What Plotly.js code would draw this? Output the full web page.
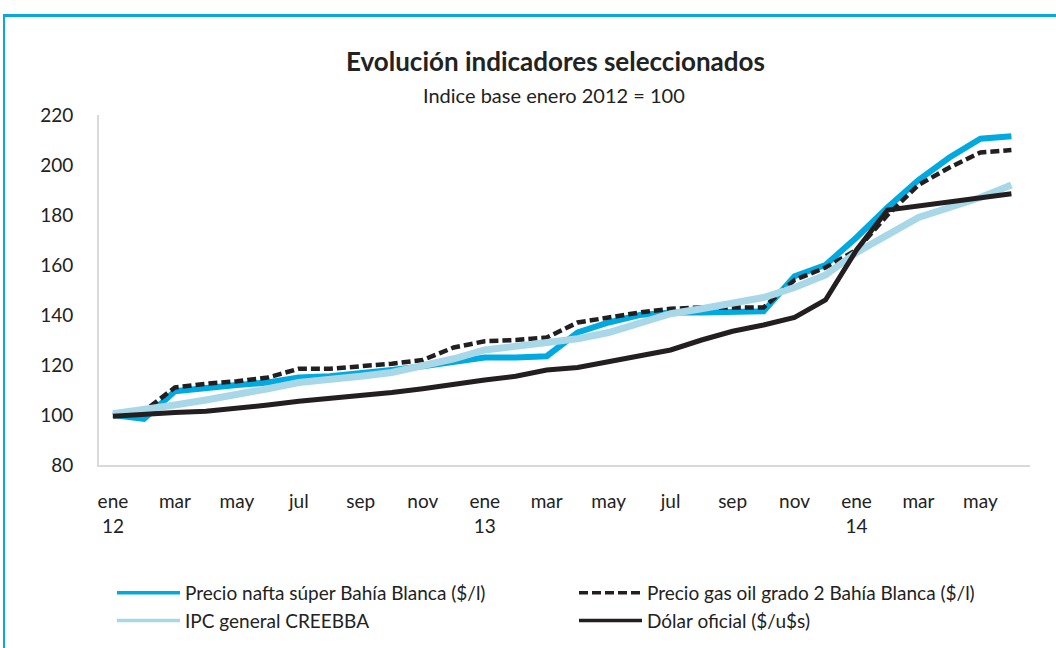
<!DOCTYPE html>
<html>
<head>
<meta charset="utf-8">
<script src="https://cdn.plot.ly/plotly-3.0.1.min.js"></script>
<style>
  html, body { margin:0; padding:0; background:#fff; }
  #chart { width:1056px; height:648px; }
  #frame { position:absolute; left:3px; top:14px; width:1060px; height:640px;
           border-top:3px solid #0aa6de; border-left:2px solid #0aa6de; pointer-events:none; }
</style>
</head>
<body>
<div id="chart"></div>
<div id="frame"></div>
<script>
// ---- data (monthly, ene 2012 = 100) ----
const months = ["ene 12","feb 12","mar 12","abr 12","may 12","jun 12","jul 12","ago 12","sep 12","oct 12","nov 12","dic 12",
                "ene 13","feb 13","mar 13","abr 13","may 13","jun 13","jul 13","ago 13","sep 13","oct 13","nov 13","dic 13",
                "ene 14","feb 14","mar 14","abr 14","may 14","jun 14"];
const nafta  = [100, 98.5, 109.5, 111, 112, 113, 115, 115.5, 116.5, 118, 119.5, 121.5,
                123, 123, 123.5, 133, 137, 140, 141, 141, 141, 141.5, 155.5, 160,
                171, 183, 194, 203, 210.5, 211.5];
const gasoil = [100, 101.5, 111, 112.5, 113.5, 115, 118.5, 118.5, 119.5, 120.5, 122, 127,
                129.5, 130, 131, 137, 139, 141, 142.5, 143, 143, 143, 154, 159,
                166, 180, 192, 199, 205, 206];
const ipc    = [100.5, 102, 104, 106, 108, 110.5, 113, 114, 115.5, 117, 119.5, 122.5,
                126, 127.5, 128.5, 130.5, 133, 137, 140.5, 142.5, 145, 147, 151, 156,
                165, 172, 179, 183, 187, 192];
const dolar  = [99.5, 100.5, 101, 101.5, 102.5, 104, 105.5, 106.5, 107.5, 109, 110.5, 112.5,
                114, 115.5, 118, 119, 121.5, 123.5, 126, 130, 133.5, 136, 139, 146,
                166, 182, 183.5, 185, 186.5, 188.5];
const tickVals = ["ene 12","mar 12","may 12","jul 12","sep 12","nov 12","ene 13","mar 13","may 13","jul 13","sep 13","nov 13","ene 14","mar 14","may 14"];
const tickText = ["ene<br>12","mar","may","jul","sep","nov","ene<br>13","mar","may","jul","sep","nov","ene<br>14","mar","may"];
const names = ["Precio nafta súper Bahía Blanca ($/l)","Precio gas oil grado 2 Bahía Blanca ($/l)","IPC general CREEBBA","Dólar oficial ($/u$s)"];

const FONT = "Lato, 'Open Sans', sans-serif";
const TXT = "#222222";
const traces = [
  {x: months, y: nafta,  name: names[0], type:"scatter", mode:"lines", line:{color:"#00a9e0", width:6}},
  {x: months, y: gasoil, name: names[1], type:"scatter", mode:"lines", line:{color:"#231f20", width:4.5, dash:"9px,4px"}},
  {x: months, y: ipc,    name: names[2], type:"scatter", mode:"lines", line:{color:"#a8d8e8", width:7}},
  {x: months, y: dolar,  name: names[3], type:"scatter", mode:"lines", line:{color:"#231f20", width:5}}
];

const layout = {
  width:1056, height:648,
  paper_bgcolor:"#fff", plot_bgcolor:"#fff",
  margin:{l:99, r:26, t:115, b:183, autoexpand:false},
  font:{family:FONT, color:TXT, size:19},
  title:{text:"<b>Evolución indicadores seleccionados</b>", font:{family:FONT, size:26, color:TXT},
         x:0.526, xref:"container", xanchor:"center", y:1-62/648, yref:"container", yanchor:"middle"},
  annotations:[{text:"Indice base enero 2012 = 100", xref:"paper", yref:"paper", x:(554-99)/931, y:(465-95)/350,
                xanchor:"center", yanchor:"middle", showarrow:false, font:{family:FONT, size:20, color:TXT}}],
  xaxis:{type:"category", range:[-0.45, 29.6], tickmode:"array", tickvals:tickVals, ticktext:tickText,
         showline:true, linecolor:"#d9d9d9", linewidth:2, showgrid:false, zeroline:false,
         ticks:"outside", ticklen:18, tickcolor:"rgba(0,0,0,0)", tickfont:{size:19, family:FONT, color:TXT}},
  yaxis:{range:[80,220], tickmode:"array", tickvals:[80,100,120,140,160,180,200,220],
         showline:true, linecolor:"#d9d9d9", linewidth:2, showgrid:false, zeroline:false,
         ticks:"outside", ticklen:20, tickcolor:"rgba(0,0,0,0)", tickfont:{size:19, family:FONT, color:TXT}},
  showlegend:true,
  legend:{orientation:"h", x:(112-99)/931, xanchor:"left", y:(465-574)/350, yanchor:"top",
          itemwidth:63, entrywidth:384, entrywidthmode:"pixels", font:{family:FONT, size:19, color:TXT},
          bgcolor:"rgba(0,0,0,0)", traceorder:"normal", itemclick:false, itemdoubleclick:false}
};

Plotly.newPlot("chart", traces, layout, {displayModeBar:false, staticPlot:true}).then(function(){
  document.querySelectorAll("#chart .legend .legendlines path").forEach(function(p){
    p.setAttribute("d","M5,0h63");
    p.style.strokeWidth = "3.5px";
  });
});
</script>
</body>
</html>
